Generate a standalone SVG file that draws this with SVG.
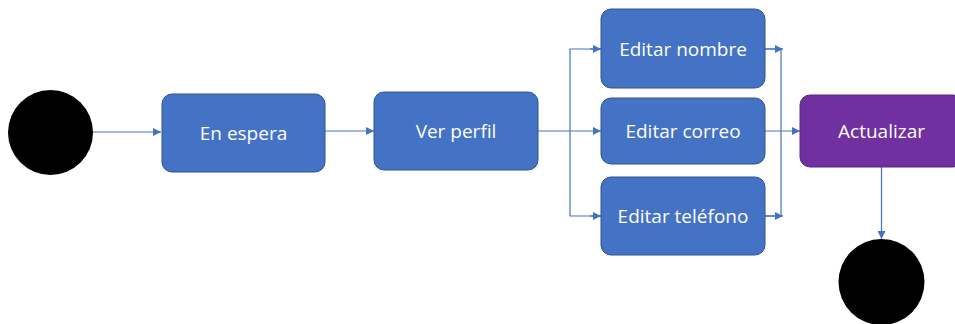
<svg xmlns="http://www.w3.org/2000/svg" width="955" height="324" viewBox="0 0 955 324">
<defs>
<style>
.box{fill:#4472C4;stroke:#2F528F;stroke-width:1}
.pbox{fill:#7030A0;stroke:#5B2785;stroke-width:1}
.lbl{font-family:"Open Sans","Liberation Sans",sans-serif;font-size:19px;fill:#FFFFFF;text-anchor:middle;dominant-baseline:central}
.ln{fill:none;stroke:#4472C4;stroke-width:1.2}
.term{fill:#000000}
</style>
<marker id="ah" viewBox="0 0 8 8" refX="8" refY="4" markerWidth="8" markerHeight="8" markerUnits="userSpaceOnUse" orient="auto">
<path d="M0,0 L8,4 L0,8 Z" fill="#4472C4"/>
</marker>
</defs>
<rect width="955" height="324" fill="#FFFFFF"/>
<g id="connectors">
<line class="ln" x1="93" y1="132" x2="161" y2="132" marker-end="url(#ah)"/>
<line class="ln" x1="325" y1="131" x2="374" y2="131" marker-end="url(#ah)"/>
<line class="ln" x1="538" y1="131" x2="601" y2="131" marker-end="url(#ah)"/>
<polyline class="ln" points="601,49 570,49 570,216 601,216"/>
<line class="ln" x1="590" y1="49" x2="601" y2="49" marker-end="url(#ah)"/>
<line class="ln" x1="590" y1="216" x2="601" y2="216" marker-end="url(#ah)"/>
<polyline class="ln" points="765,49 781,49 781,216 765,216"/>
<line class="ln" x1="765" y1="49" x2="783" y2="49" marker-end="url(#ah)"/>
<line class="ln" x1="765" y1="216" x2="783" y2="216" marker-end="url(#ah)"/>
<line class="ln" x1="765" y1="131" x2="800" y2="131" marker-end="url(#ah)"/>
<line class="ln" x1="881.5" y1="167" x2="881.5" y2="239" marker-end="url(#ah)"/>
</g>
<g id="start"><circle class="term" cx="50.5" cy="132.5" r="42.5"/></g>
<g id="en-espera"><rect class="box" x="162" y="94" width="163" height="78" rx="10"/><text class="lbl" x="243.5" y="133">En espera</text></g>
<g id="ver-perfil"><rect class="box" x="374" y="92" width="164" height="78" rx="10"/><text class="lbl" x="456" y="131">Ver perfil</text></g>
<g id="editar-nombre"><rect class="box" x="601" y="9" width="164" height="79" rx="10"/><text class="lbl" x="683" y="49">Editar nombre</text></g>
<g id="editar-correo"><rect class="box" x="601" y="98" width="164" height="66" rx="10"/><text class="lbl" x="683" y="131">Editar correo</text></g>
<g id="editar-telefono"><rect class="box" x="601" y="177" width="164" height="78" rx="10"/><text class="lbl" x="683" y="216">Editar teléfono</text></g>
<g id="actualizar"><rect class="pbox" x="800" y="95" width="163" height="72" rx="10"/><text class="lbl" x="881.5" y="131">Actualizar</text></g>
<g id="end"><circle class="term" cx="881.5" cy="282" r="43"/></g>
</svg>
